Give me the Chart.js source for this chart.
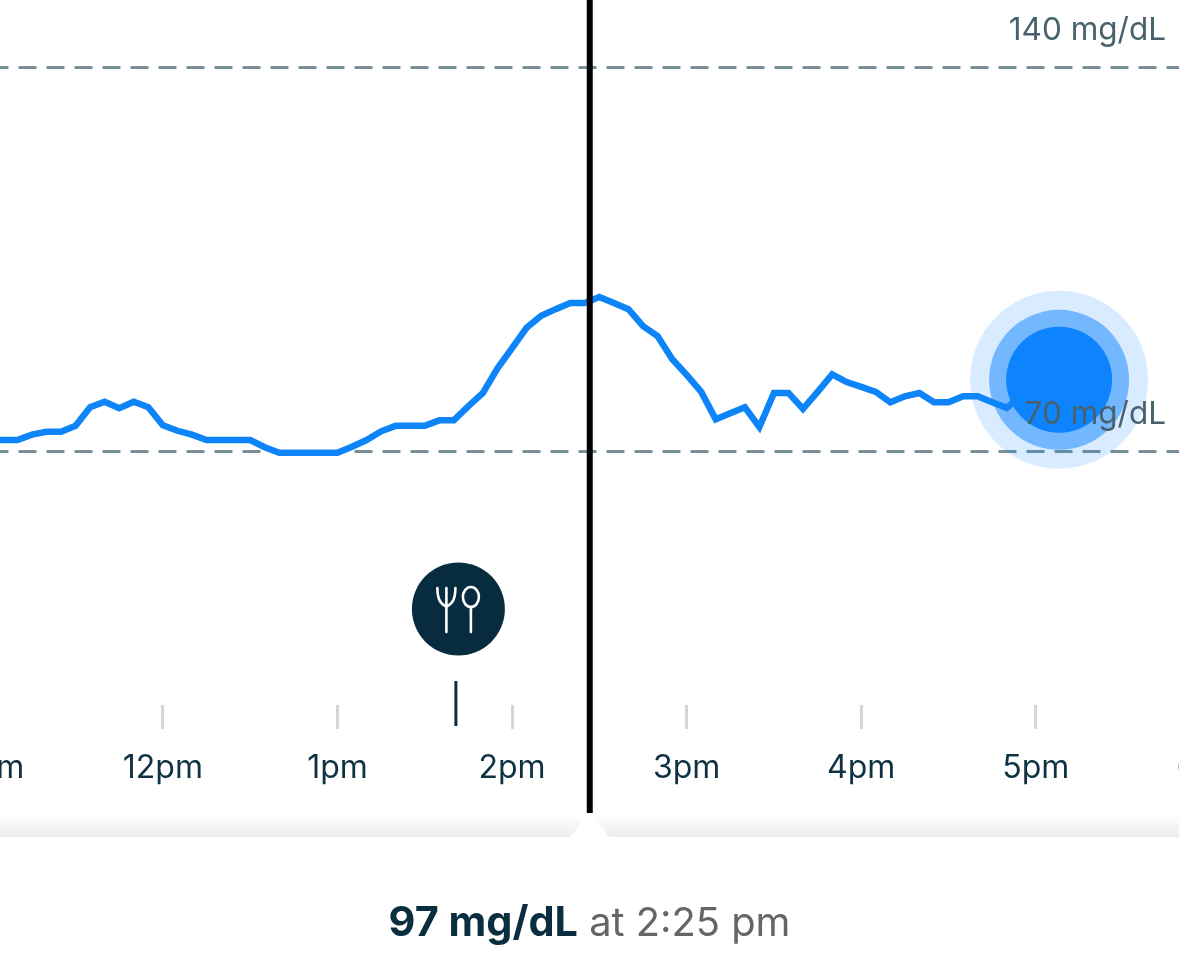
<!DOCTYPE html>
<html>
<head>
<meta charset="utf-8">
<title>Glucose</title>
<script src="https://cdn.jsdelivr.net/npm/chart.js@4/dist/chart.umd.min.js"></script>
<style>
  html, body { margin: 0; padding: 0; background: #fff; overflow: hidden; }
  #wrap { position: relative; width: 1179px; height: 977px; }
  #glucoseChart { display: block; }
  #caption {
    position: absolute; left: 0; top: 896px; width: 1179px;
    text-align: center; font: 400 39.8px Inter, sans-serif; color: #666; white-space: pre;
  }
  #caption b { font-weight: 700; font-size: 41.4px; color: #0a2e3f; }
</style>
</head>
<body>
<div id="wrap">
  <canvas id="glucoseChart" width="1179" height="977"></canvas>
  <div id="caption"><b>97 mg/dL</b> at 2:25 pm</div>
</div>
<script>
/* ---------- data ---------- */
const minutes = [660, 665, 670, 675, 680, 685, 690, 695, 700, 705, 710, 715,
  720, 725, 730, 735, 740, 745, 750, 755, 760, 765, 770, 775,
  780, 785, 790, 795, 800, 805, 810, 815, 820, 825, 830, 835,
  840, 845, 850, 855, 860, 865, 870, 875, 880, 885, 890, 895,
  900, 905, 910, 915, 920, 925, 930, 935, 940, 945, 950, 955,
  960, 965, 970, 975, 980, 985, 990, 995, 1000, 1005, 1010, 1015];
const glucose = [72, 72, 72, 73, 73.5, 73.5, 74.6, 78, 79, 77.8, 79, 78,
  74.7, 73.7, 73, 72, 72, 72, 72, 70.7, 69.7, 69.7, 69.7, 69.7,
  69.7, 70.8, 72, 73.6, 74.6, 74.6, 74.6, 75.6, 75.6, 78.2, 80.6, 85.1,
  88.8, 92.5, 94.7, 95.9, 97, 97, 98.1, 97, 95.9, 92.8, 91, 86.8,
  83.9, 80.8, 75.8, 76.9, 78, 74.4, 80.6, 80.6, 77.7, 80.8, 84, 82.6,
  81.7, 80.8, 78.9, 80, 80.6, 78.9, 78.9, 80, 80, 78.9, 77.9, 80];
const hourTicks = [660, 720, 780, 840, 900, 960, 1020, 1080];
const hourLabels = ["11am", "12pm", "1pm", "2pm", "3pm", "4pm", "5pm", "6pm"];
const rangeTicks = [70, 140];
const rangeLabels = ["70 mg/dL", "140 mg/dL"];
const currentReading = [{ x: 1028, y: 83 }];
const cursorMinute = 866.7;
const mealMinute = 820.7;

// scales would otherwise shrink the plot to keep the cropped labels on screen
function noPadding(s) {
  s.paddingLeft = s.paddingRight = s.paddingTop = s.paddingBottom = 0;
}

/* ---------- cursor, meal marker and bottom panel ---------- */
const overlay = {
  id: "overlay",
  afterDraw(chart) {
    const ctx = chart.ctx;
    const xs = chart.scales.x;
    const cursorX = xs.getPixelForValue(cursorMinute);
    const mealX = xs.getPixelForValue(mealMinute);

    // panel shadow + notch
    const grad = ctx.createLinearGradient(0, 815, 0, 837);
    grad.addColorStop(0, "rgba(236,236,236,0)");
    grad.addColorStop(1, "rgba(236,236,236,1)");
    ctx.save();
    ctx.fillStyle = grad;
    ctx.fillRect(0, 815, 1179, 22);
    ctx.fillStyle = "#fff";
    ctx.beginPath();
    ctx.moveTo(cursorX - 20, 838);
    ctx.lineTo(cursorX, 811);
    ctx.lineTo(cursorX + 20, 838);
    ctx.closePath();
    ctx.fill();

    // cursor
    ctx.strokeStyle = "#000";
    ctx.lineWidth = 6;
    ctx.beginPath();
    ctx.moveTo(cursorX, 0);
    ctx.lineTo(cursorX, 813);
    ctx.stroke();

    // meal tick
    ctx.strokeStyle = "#0a2e3f";
    ctx.lineWidth = 3;
    ctx.beginPath();
    ctx.moveTo(mealX, 681);
    ctx.lineTo(mealX, 726);
    ctx.stroke();

    // meal badge
    const bx = mealX + 2.5, by = 609;
    ctx.fillStyle = "#072c3f";
    ctx.beginPath();
    ctx.arc(bx, by, 46.5, 0, Math.PI * 2);
    ctx.fill();
    ctx.strokeStyle = "#fff";
    ctx.lineWidth = 2.6;
    ctx.lineCap = "round";
    ctx.beginPath();
    ctx.moveTo(bx - 12, by - 21);
    ctx.lineTo(bx - 12, by + 23);
    ctx.moveTo(bx - 21, by - 21);
    ctx.bezierCurveTo(bx - 21, by - 8, bx - 17, by - 5, bx - 12, by - 2);
    ctx.moveTo(bx - 3, by - 21);
    ctx.bezierCurveTo(bx - 3, by - 8, bx - 7, by - 5, bx - 12, by - 2);
    ctx.moveTo(bx + 12.5, by - 2);
    ctx.lineTo(bx + 12.5, by + 23);
    ctx.stroke();
    ctx.beginPath();
    ctx.ellipse(bx + 12.5, by - 12, 8, 10, 0, 0, Math.PI * 2);
    ctx.stroke();
    ctx.restore();
  }
};

/* ---------- chart ---------- */
new Chart(document.getElementById("glucoseChart").getContext("2d"), {
  type: "line",
  data: {
    datasets: [
      {
        label: "Glucose",
        data: minutes.map((m, i) => ({ x: m, y: glucose[i] })),
        borderColor: "#0d85f8",
        borderWidth: 6.5,
        tension: 0,
        pointRadius: 0,
        borderJoinStyle: "miter",
        order: 1
      },
      {
        label: "Now",
        data: currentReading,
        showLine: false,
        pointRadius: 53,
        pointBackgroundColor: "#0d84fd",
        pointBorderWidth: 0,
        order: 2
      },
      {
        label: "Now ring",
        data: currentReading,
        showLine: false,
        pointRadius: 70,
        pointBackgroundColor: "rgba(13,132,253,0.5)",
        pointBorderWidth: 0,
        order: 3
      },
      {
        label: "Now halo",
        data: currentReading,
        showLine: false,
        pointRadius: 89,
        pointBackgroundColor: "rgba(13,132,253,0.16)",
        pointBorderWidth: 0,
        order: 4
      }
    ]
  },
  options: {
    responsive: false,
    animation: false,
    layout: { autoPadding: false, padding: 0 },
    plugins: { legend: { display: false }, tooltip: { enabled: false } },
    scales: {
      x: {
        type: "linear",
        min: 664.03,
        max: 1069.2,
        afterBuildTicks: (s) => { s.ticks = hourTicks.map((v) => ({ value: v })); },
        afterFit: (s) => { s.height = 272; noPadding(s); },
        border: { display: false },
        grid: { drawOnChartArea: false, drawTicks: true, tickLength: 24, tickColor: "#d6d6d6", tickWidth: 3 },
        ticks: {
          autoSkip: false,
          maxRotation: 0,
          padding: 20,
          color: "#0f3243",
          font: { family: "Inter", size: 32 },
          callback: (v) => hourLabels[hourTicks.indexOf(v)]
        }
      },
      y: {
        position: "right",
        min: 23.65,
        max: 152.32,
        afterBuildTicks: (s) => { s.ticks = rangeTicks.map((v) => ({ value: v })); },
        afterFit: (s) => { s.width = 0; noPadding(s); },
        border: { display: false, dash: [18, 10], dashOffset: 9.5 },
        grid: { drawTicks: false, color: "#789096", lineWidth: 3 },
        ticks: {
          z: 1,
          mirror: true,
          padding: -13,
          labelOffset: -37,
          color: "#47626c",
          font: { family: "Inter", size: 31.5 },
          callback: (v) => rangeLabels[rangeTicks.indexOf(v)]
        }
      }
    }
  },
  plugins: [overlay]
});
</script>
</body>
</html>
